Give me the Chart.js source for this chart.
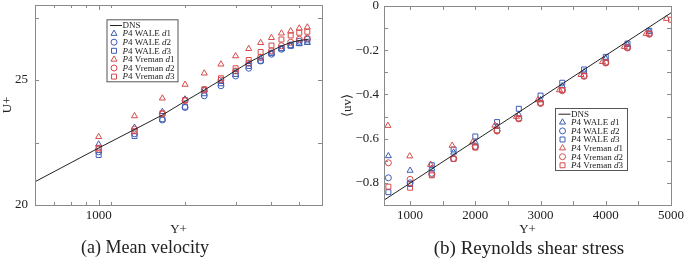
<!DOCTYPE html>
<html>
<head>
<meta charset="utf-8">
<script src="https://cdn.jsdelivr.net/npm/chart.js@4/dist/chart.umd.min.js"></script>
<style>
html,body{margin:0;padding:0;background:#fff;}
#wrap{position:relative;width:685px;height:260px;overflow:hidden;font-family:"Liberation Serif",serif;color:#222;}
canvas{position:absolute;top:0;}
.cap{position:absolute;top:237px;font-size:18px;white-space:nowrap;transform:translateX(-50%);}
</style>
</head>
<body>
<div id="wrap">
  <canvas id="ca" width="340" height="240" style="left:0;width:340px;height:240px"></canvas>
  <canvas id="cb" width="345" height="240" style="left:340px;width:345px;height:240px"></canvas>
  <div class="cap" style="left:145px">(a) Mean velocity</div>
  <div class="cap" style="left:529px;font-size:19px">(b) Reynolds shear stress</div>
</div>
<script>
// ---------- (a) mean velocity ----------
const yPlusA=[1000,1333,1667,2000,2333,2667,3000,3333,3667,4000,4333,4667,5000,5333];
const dnsAX=[600,800,1000,1333,1667,2000,2333,2667,3000,3333,3667,4000,4333,4667,5000,5333];
const dnsAY=[20.93,21.69,22.28,23.02,23.6,24.15,24.6,25.0,25.38,25.7,25.95,26.17,26.36,26.5,26.58,26.62];
const waleD1A=[22.43,23.1,23.73,24.23,24.6,24.93,25.33,25.64,25.87,26.07,26.24,26.35,26.45,26.49];
const waleD2A=[22.13,22.85,23.4,23.9,24.37,24.77,25.16,25.47,25.76,26.03,26.23,26.4,26.55,26.63];
const waleD3A=[22.0,22.76,23.43,23.93,24.47,24.87,25.24,25.56,25.77,26.07,26.27,26.37,26.47,26.53];
const vremD1A=[22.73,23.56,24.27,24.82,25.27,25.63,25.96,26.25,26.49,26.69,26.87,26.96,27.07,27.11];
const vremD2A=[22.23,23.03,23.64,24.17,24.6,25.0,25.36,25.67,25.91,26.17,26.37,26.51,26.63,26.67];
const vremD3A=[22.29,22.95,23.67,24.2,24.63,25.07,25.47,25.8,26.12,26.38,26.62,26.78,26.89,26.93];
const xLabelsA=[1000];
const yLabelsA=[20,25];
const xMarksA=[700,800,900,1000,1100,2000,3000,4000,5000];
const yMarksA=[22.5,25,27.5];

// ---------- (b) Reynolds shear stress ----------
const yPlusB=[667,1000,1333,1667,2000,2333,2667,3000,3333,3667,4000,4333,4667,5000];
const yPlusBV1=[660,995,1315,1645,1960,2300,2630,2960,3290,3620,3950,4285,4620,4930];
const dnsBX=[600,5000];
const dnsBY=[-0.878,-0.031];
const waleD1B=[-0.678,-0.744,-0.735,-0.662,-0.618,-0.545,-0.492,-0.425,-0.362,-0.298,-0.238,-0.175,-0.115,null];
const waleD2B=[-0.777,-0.8,-0.757,-0.69,-0.635,-0.565,-0.51,-0.44,-0.38,-0.316,-0.256,-0.187,-0.125,null];
const waleD3B=[-0.842,-0.805,-0.72,-0.649,-0.59,-0.525,-0.465,-0.405,-0.347,-0.287,-0.23,-0.17,-0.112,null];
const vremD1B=[-0.541,-0.679,-0.717,-0.631,-0.616,-0.54,-0.5,-0.425,-0.38,-0.311,-0.252,-0.184,-0.125,-0.057];
const vremD2B=[-0.709,-0.784,-0.762,-0.69,-0.638,-0.565,-0.51,-0.44,-0.383,-0.318,-0.258,-0.19,-0.128,null];
const vremD3B=[-0.817,-0.822,-0.766,-0.692,-0.64,-0.562,-0.508,-0.438,-0.38,-0.315,-0.255,-0.188,-0.125,-0.062];
const xLabelsB=[1000,2000,3000,4000,5000];
const yLabelsB=[0,-0.2,-0.4,-0.6,-0.8];
const xMarksB=[1000,1500,2000,2500,3000,3500,4000,4500];
const yMarksB=[-0.1,-0.2,-0.3,-0.4,-0.5,-0.6,-0.7,-0.8];

const legendText=['DNS','*P*4 WALE *d*1','*P*4 WALE *d*2','*P*4 WALE *d*3','*P*4 Vreman *d*1','*P*4 Vreman *d*2','*P*4 Vreman *d*3'];

const FONT='"Liberation Serif", "Times New Roman", serif';
const BLUE='#3d5db5', RED='#d64b4b', INK='#222';

const pts=(xs,ys)=>xs.map((x,i)=>({x,y:ys[i]})).filter(p=>p.y!==null);

function markerSet(label,xs,ys,style,color,order){
  return {label,data:pts(xs,ys),showLine:false,pointStyle:style,
    pointRadius:style==='circle'?3:3.5,pointBorderWidth:1,
    pointBorderColor:color,pointBackgroundColor:'rgba(0,0,0,0)',order};
}
function lineSet(xs,ys){
  return {label:'DNS',data:pts(xs,ys),showLine:true,borderColor:INK,borderWidth:1,pointRadius:0,order:0};
}

function drawRich(ctx,str,x,y,size){
  str.split('*').forEach((p,i)=>{
    ctx.font=(i%2?'italic ':'')+size+'px '+FONT;
    ctx.fillText(p,x,y);
    x+=ctx.measureText(p).width;
  });
}
function drawMarker(ctx,style,x,y,r,color){
  ctx.save();ctx.strokeStyle=color;ctx.lineWidth=1;ctx.beginPath();
  if(style==='circle'){ctx.arc(x,y,r,0,Math.PI*2);}
  else if(style==='rect'){const s=r*Math.SQRT1_2;ctx.rect(x-s,y-s,2*s,2*s);}
  else{for(let k=0;k<3;k++){const a=k*2*Math.PI/3;const px=x+Math.sin(a)*r,py=y-Math.cos(a)*r;k?ctx.lineTo(px,py):ctx.moveTo(px,py);}ctx.closePath();}
  ctx.stroke();ctx.restore();
}

// frame with inward ticks on all four sides + boxed legend
function framePlugin(o){
  return {id:'frame',afterDatasetsDraw(chart){
    const {ctx,chartArea:a,scales:{x,y}}=chart;
    ctx.save();
    ctx.strokeStyle='#8a8a8a';ctx.lineWidth=1;
    ctx.strokeRect(Math.round(a.left)+0.5,Math.round(a.top)+0.5,Math.round(a.right-a.left),Math.round(a.bottom-a.top));
    ctx.beginPath();
    o.xMarks.forEach(v=>{
      const px=Math.round(x.getPixelForValue(v))+0.5;
      const len=(o.xMajor||[]).includes(v)?5:o.xLen;
      ctx.moveTo(px,a.bottom);ctx.lineTo(px,a.bottom-len);
      ctx.moveTo(px,a.top);ctx.lineTo(px,a.top+len);
    });
    o.yMarks.forEach(v=>{
      const py=Math.round(y.getPixelForValue(v))+0.5;
      ctx.moveTo(a.left,py);ctx.lineTo(a.left+o.yLen,py);
      ctx.moveTo(a.right,py);ctx.lineTo(a.right-o.yLen,py);
    });
    ctx.stroke();
    // legend
    const L=o.legend, rows=chart.data.datasets;
    ctx.fillStyle='#fff';ctx.fillRect(L.x,L.y,L.w,L.h);
    ctx.strokeStyle='#555';ctx.strokeRect(L.x+0.5,L.y+0.5,L.w,L.h);
    ctx.textBaseline='middle';ctx.fillStyle=INK;
    rows.forEach((d,i)=>{
      const cy=L.y+5.7+i*8.6;
      if(d.showLine){
        ctx.strokeStyle=INK;ctx.beginPath();ctx.moveTo(L.x+3.5,cy+0.5);ctx.lineTo(L.x+15.5,cy+0.5);ctx.stroke();
      }else{
        drawMarker(ctx,d.pointStyle,L.x+7.5,cy,d.pointStyle==='circle'?3:3.5,d.pointBorderColor);
      }
      ctx.fillStyle=INK;
      drawRich(ctx,legendText[i],L.x+16,cy+0.5,9);
    });
    ctx.restore();
  }};
}

const fixPad=s=>{s.paddingTop=0;s.paddingBottom=0;s.paddingLeft=0;s.paddingRight=0;};
const tickFont={family:FONT,size:13};

function axes(xOpt,yOpt,xTitle,yTitle,yWidth,yPad,fmtY){
  return {
    x:Object.assign({grid:{display:false,drawTicks:false},border:{display:false},
      afterFit:s=>{s.height=35;fixPad(s);},
      ticks:{font:tickFont,color:INK,padding:3,autoSkip:false,maxRotation:0,callback:v=>String(v)},
      title:{display:true,text:xTitle,font:{family:FONT,size:13},color:INK,padding:{top:0,bottom:3}}},xOpt),
    y:Object.assign({grid:{display:false,drawTicks:false},border:{display:false},
      afterFit:s=>{s.width=yWidth;fixPad(s);},
      ticks:{font:tickFont,color:INK,padding:yPad,autoSkip:false,callback:fmtY},
      title:{display:true,text:yTitle,font:{family:FONT,size:13},color:INK,padding:{top:0,bottom:0}}},yOpt)
  };
}

new Chart(document.getElementById('ca'),{
  type:'scatter',
  data:{datasets:[
    lineSet(dnsAX,dnsAY),
    markerSet('P4 WALE d1',yPlusA,waleD1A,'triangle',BLUE,6),
    markerSet('P4 WALE d2',yPlusA,waleD2A,'circle',BLUE,5),
    markerSet('P4 WALE d3',yPlusA,waleD3A,'rect',BLUE,4),
    markerSet('P4 Vreman d1',yPlusA,vremD1A,'triangle',RED,3),
    markerSet('P4 Vreman d2',yPlusA,vremD2A,'circle',RED,2),
    markerSet('P4 Vreman d3',yPlusA,vremD3A,'rect',RED,1)
  ]},
  options:{responsive:false,animation:false,
    layout:{padding:{top:5,right:18,left:0,bottom:0}},
    plugins:{legend:{display:false},tooltip:{enabled:false}},
    scales:axes(
      {type:'logarithmic',min:600,max:6000,afterBuildTicks:s=>{s.ticks=xLabelsA.map(v=>({value:v}));}},
      {min:20,max:28,afterBuildTicks:s=>{s.ticks=yLabelsA.map(v=>({value:v}));}},
      'Y+','U+',35,7,v=>String(v))
  },
  plugins:[framePlugin({xMarks:xMarksA,xMajor:[1000],xLen:3,yMarks:yMarksA,yLen:4,
    legend:{x:106.5,y:19.3,w:71,h:62}})]
});

new Chart(document.getElementById('cb'),{
  type:'scatter',
  data:{datasets:[
    lineSet(dnsBX,dnsBY),
    markerSet('P4 WALE d1',yPlusB,waleD1B,'triangle',BLUE,6),
    markerSet('P4 WALE d2',yPlusB,waleD2B,'circle',BLUE,5),
    markerSet('P4 WALE d3',yPlusB,waleD3B,'rect',BLUE,4),
    markerSet('P4 Vreman d1',yPlusBV1,vremD1B,'triangle',RED,3),
    markerSet('P4 Vreman d2',yPlusB,vremD2B,'circle',RED,2),
    markerSet('P4 Vreman d3',yPlusB,vremD3B,'rect',RED,1)
  ]},
  options:{responsive:false,animation:false,
    layout:{padding:{top:6,right:14,left:0,bottom:0}},
    plugins:{legend:{display:false},tooltip:{enabled:false}},
    scales:axes(
      {type:'linear',min:600,max:5000,afterBuildTicks:s=>{s.ticks=xLabelsB.map(v=>({value:v}));}},
      {min:-0.9,max:0,afterBuildTicks:s=>{s.ticks=yLabelsB.map(v=>({value:v}));}},
      'Y+','\u27E8uv\u27E9',44,5,v=>v===0?'0':'\u2212'+Math.abs(v).toFixed(1))
  },
  plugins:[framePlugin({xMarks:xMarksB,xLen:4,yMarks:yMarksB,yLen:4,
    legend:{x:215,y:108,w:72,h:62}})]
});
</script>
</body>
</html>
